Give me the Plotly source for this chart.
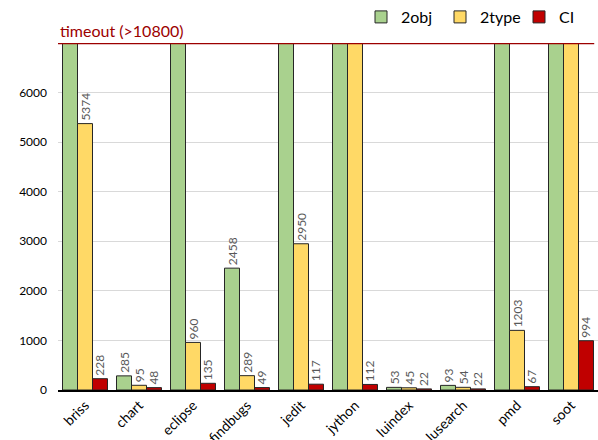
import plotly.graph_objects as go

categories = ["briss", "chart", "eclipse", "findbugs", "jedit", "jython", "luindex", "lusearch", "pmd", "soot"]
TIMEOUT = 10800
obj2 = [TIMEOUT, 285, TIMEOUT, 2458, TIMEOUT, TIMEOUT, 53, 93, TIMEOUT, TIMEOUT]
type2 = [5374, 95, 960, 289, 2950, TIMEOUT, 45, 54, 1203, TIMEOUT]
ci = [228, 48, 135, 49, 117, 112, 22, 22, 67, 994]
y_ticks = [0, 1000, 2000, 3000, 4000, 5000, 6000]
y_max = 7000

series = [("2obj", obj2, "#A9D18E"), ("2type", type2, "#FFD966"), ("CI", ci, "#C00000")]

fig = go.Figure()
for name, vals, color in series:
    labels = ["" if v >= TIMEOUT else str(v) for v in vals]
    fig.add_trace(go.Bar(
        x=categories, y=vals, name=name,
        marker=dict(color=color, line=dict(color="#262626", width=1)),
        text=labels, textposition="outside", textangle=-90, constraintext="none",
        textfont=dict(size=12, color="#595959", family="Lato"),
        cliponaxis=False,
    ))

fig.add_shape(type="line", xref="paper", yref="y", x0=0, x1=0.993, y0=y_max, y1=y_max,
              line=dict(color="#9C0000", width=2.5))
fig.add_annotation(xref="paper", yref="y", x=0, y=y_max, xanchor="left", yanchor="bottom",
                   text="timeout (>10800)", showarrow=False, yshift=1,
                   font=dict(size=16, color="#9C0000", family="Lato"))

fig.update_layout(
    width=598, height=440,
    margin=dict(l=58, r=0, t=43, b=50),
    barmode="group", bargap=0.167, bargroupgap=0,
    plot_bgcolor="white", paper_bgcolor="white",
    font=dict(family="Lato", color="black"),
    showlegend=True,
    legend=dict(orientation="h", x=1.0, xanchor="right", y=1.0, yref="container", yanchor="top",
                font=dict(size=16, color="black"), bgcolor="rgba(0,0,0,0)",
                traceorder="normal", itemwidth=30, entrywidth=34, entrywidthmode="pixels"),
)
fig.update_xaxes(type="category", tickangle=-45, tickfont=dict(size=14, color="black"),
                 showline=True, linecolor="black", linewidth=1.5, ticks="", automargin=False,
                 showgrid=False)
fig.update_yaxes(range=[0, y_max], tickvals=y_ticks, tickfont=dict(size=12, color="black"),
                 showgrid=True, gridcolor="#D9D9D9", gridwidth=1, zeroline=False,
                 ticks="", ticklabelstandoff=10, automargin=False, showline=False)

fig.write_html("out.html", config={"displayModeBar": False},
               post_script="document.body.style.margin='0';document.body.style.overflow='hidden';")
